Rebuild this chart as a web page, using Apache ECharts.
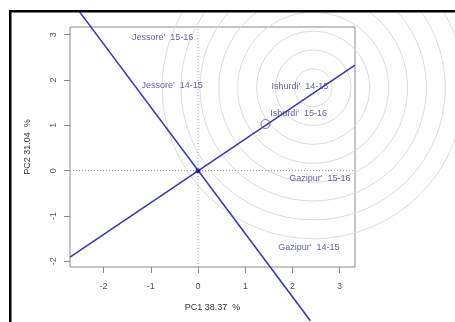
<!DOCTYPE html>
<html>
<head>
<meta charset="utf-8">
<script src="https://cdn.jsdelivr.net/npm/echarts@6/dist/echarts.min.js"></script>
<style>
  html, body { margin: 0; padding: 0; background: #fff; }
  #chart { width: 455px; height: 322px; }
</style>
</head>
<body>
<div id="chart"></div>
<script>
// Axis ranges and tick marks
const xRange = [-2.712, 3.326];
const yRange = [-2.126, 3.17];
const xTicks = [-2, -1, 0, 1, 2, 3];
const yTicks = [-2, -1, 0, 1, 2, 3];

// Environment labels (PC1, PC2)
const envNames = ["Jessore'  15-16", "Jessore'  14-15", "Ishurdi'  14-15", "Ishurdi'  15-16", "Gazipur'  15-16", "Gazipur'  14-15"];
const envPC1 = [-0.75, -0.55, 2.16, 2.13, 2.58, 2.35];
const envPC2 = [2.93, 1.87, 1.85, 1.25, -0.17, -1.69];

// Average-environment axis and its perpendicular through the origin
const axisLineA = [[-2.712, -1.91], [3.326, 2.33]];
const axisLineB = [[-2.52, 3.52], [2.38, -3.31]];

// Projected point on the axis
const markerPoint = [1.43, 1.03];

// Concentric rings around the ideal point
const ringCenter = [2.44, 1.83];
const ringRadii = [0.4, 0.8, 1.2, 1.6, 2.0, 2.4, 2.8, 3.2];

const blue = '#3a3ab0';
const labelBlue = '#38388f';
const font = 'Liberation Sans, Arial, sans-serif';

const chart = echarts.init(document.getElementById('chart'));
chart.setOption({
  animation: false,
  backgroundColor: '#fff',
  grid: {
    left: 70, top: 27, right: 100, bottom: 55,
    show: true, borderColor: '#8a8a8a', borderWidth: 1
  },
  xAxis: {
    type: 'value', min: xRange[0], max: xRange[1],
    name: 'PC1 38.37  %', nameLocation: 'middle', nameGap: 36,
    nameTextStyle: { fontFamily: font, fontSize: 9, color: '#333' },
    axisLine: { show: false, onZero: false },
    splitLine: { show: false },
    axisTick: { show: true, length: 6, inside: false, customValues: xTicks, lineStyle: { color: '#8a8a8a' } },
    axisLabel: { show: true, customValues: xTicks, margin: 15, fontFamily: font, fontSize: 9, color: '#555' }
  },
  yAxis: {
    type: 'value', min: yRange[0], max: yRange[1],
    name: 'PC2 31.04  %', nameLocation: 'middle', nameGap: 38, nameRotate: 90,
    nameTextStyle: { fontFamily: font, fontSize: 9, color: '#333' },
    axisLine: { show: false, onZero: false },
    splitLine: { show: false },
    axisTick: { show: true, length: 6, inside: false, customValues: yTicks, lineStyle: { color: '#8a8a8a' } },
    axisLabel: { show: true, customValues: yTicks, rotate: 90, margin: 12, fontFamily: font, fontSize: 9, color: '#555' }
  },
  series: [
    {
      type: 'custom',
      z: 1,
      clip: false,
      silent: true,
      data: ringRadii.map(r => [ringCenter[0], ringCenter[1], r]),
      encode: { x: 0, y: 1 },
      renderItem: function (params, api) {
        const c = api.coord([api.value(0), api.value(1)]);
        const r = api.size([api.value(2), 0])[0];
        return {
          type: 'circle',
          shape: { cx: c[0], cy: c[1], r: r },
          style: { fill: 'none', stroke: '#dcdcdc', lineWidth: 1 }
        };
      }
    },
    {
      type: 'line', z: 2, symbol: 'none', silent: true,
      data: [[xRange[0], 0], [xRange[1], 0]],
      lineStyle: { color: '#999', width: 1, type: [1, 2] }
    },
    {
      type: 'line', z: 2, symbol: 'none', silent: true,
      data: [[0, yRange[0]], [0, yRange[1]]],
      lineStyle: { color: '#aaa', width: 1, type: [1, 2] }
    },
    {
      type: 'line', z: 3, symbol: 'none', silent: true,
      data: axisLineA,
      lineStyle: { color: blue, width: 1.6 }
    },
    {
      type: 'line', z: 3, symbol: 'none', silent: true, clip: false,
      data: axisLineB,
      lineStyle: { color: blue, width: 1.6 }
    },
    {
      type: 'scatter', z: 4, silent: true,
      symbol: 'circle', symbolSize: 9,
      data: [markerPoint],
      itemStyle: { color: 'rgba(0,0,0,0)', borderColor: '#5a5aa6', borderWidth: 1 }
    },
    {
      type: 'scatter', z: 4, silent: true,
      symbol: 'circle', symbolSize: 5,
      data: [[0, 0]],
      itemStyle: { color: '#1c1c8c' }
    },
    {
      type: 'scatter', z: 5, silent: true,
      symbolSize: 0,
      data: envNames.map((n, i) => ({ name: n, value: [envPC1[i], envPC2[i]] })),
      label: {
        show: true, position: 'inside', formatter: p => p.name,
        fontFamily: font, fontSize: 9, color: labelBlue
      }
    }
  ],
  graphic: [
    { type: 'rect', z: 100, shape: { x: 0, y: 0, width: 455, height: 10 }, style: { fill: '#fff' } },
    { type: 'rect', z: 100, shape: { x: 0, y: 0, width: 9, height: 322 }, style: { fill: '#fff' } },
    { type: 'rect', z: 101, shape: { x: 9, y: 10, width: 446, height: 2.5 }, style: { fill: '#000' } },
    { type: 'rect', z: 101, shape: { x: 9, y: 10, width: 2.5, height: 312 }, style: { fill: '#000' } }
  ]
});
</script>
</body>
</html>
